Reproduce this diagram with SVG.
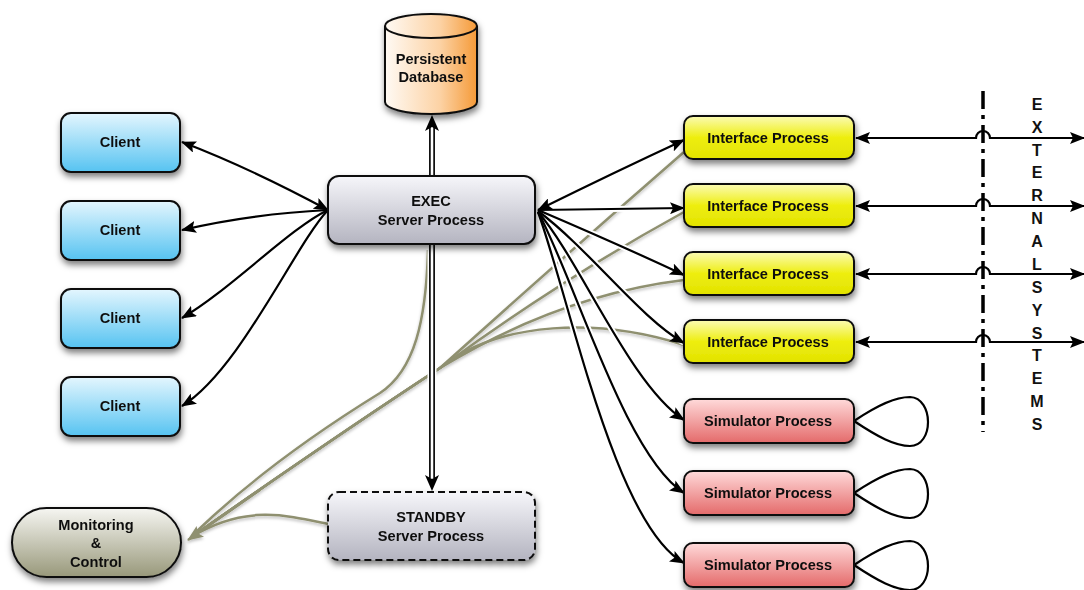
<svg xmlns="http://www.w3.org/2000/svg" xmlns:xlink="http://www.w3.org/1999/xlink" width="1084" height="590" viewBox="0 0 1084 590">
<defs>
<style>
text{font-family:"Liberation Sans",Arial,Helvetica,sans-serif;font-weight:bold;fill:#111;text-anchor:middle}
.t{font-size:14.6px}
.ext{font-size:16px}
.node{stroke:#111;stroke-width:2}
.halo{fill:none;stroke:#fff;stroke-width:6}
.ln{fill:none;stroke:#000;stroke-width:2.2}
.ol{fill:none;stroke:#8f9070;stroke-width:2.5}
</style>
<filter id="sh" x="-20%" y="-20%" width="140%" height="150%">
<feDropShadow dx="1" dy="4" stdDeviation="3" flood-color="#000" flood-opacity="0.5"/>
</filter>
<filter id="lsh" x="-10%" y="-10%" width="120%" height="120%">
<feDropShadow dx="0" dy="2" stdDeviation="1.5" flood-color="#000" flood-opacity="0.25"/>
</filter>
<linearGradient id="gClient" x1="0" y1="0" x2="0" y2="1"><stop offset="0" stop-color="#e4f6fe"/><stop offset="1" stop-color="#56c3f1"/></linearGradient>
<linearGradient id="gExec" x1="0" y1="0" x2="0" y2="1"><stop offset="0" stop-color="#f6f6fa"/><stop offset="1" stop-color="#b4b4c0"/></linearGradient>
<linearGradient id="gIf" x1="0" y1="0" x2="0" y2="1"><stop offset="0" stop-color="#fbfbb4"/><stop offset="0.5" stop-color="#eeee10"/><stop offset="1" stop-color="#e2e200"/></linearGradient>
<linearGradient id="gSim" x1="0" y1="0" x2="0" y2="1"><stop offset="0" stop-color="#ffdada"/><stop offset="1" stop-color="#e46a6a"/></linearGradient>
<linearGradient id="gMon" x1="0" y1="0" x2="0" y2="1"><stop offset="0" stop-color="#f6f6f2"/><stop offset="1" stop-color="#98987a"/></linearGradient>
<linearGradient id="gDb" x1="0" y1="0" x2="1" y2="0"><stop offset="0" stop-color="#fffaf4"/><stop offset="0.6" stop-color="#fcd2a4"/><stop offset="1" stop-color="#f59a38"/></linearGradient>
<marker id="ah" viewBox="0 0 15 12" refX="14" refY="6" markerWidth="15" markerHeight="12" markerUnits="userSpaceOnUse" orient="auto-start-reverse">
<path d="M0,0 L15,6 L0,12 L3,6 Z" fill="#000"/>
</marker>
<marker id="aho" viewBox="0 0 16 13" refX="15" refY="6.5" markerWidth="16" markerHeight="13" markerUnits="userSpaceOnUse" orient="auto-start-reverse">
<path d="M0,0 L16,6.5 L0,13 L3,6.5 Z" fill="#8f9070"/>
</marker>
</defs>
<rect width="1084" height="590" fill="#fff"/>

<g id="connectors">
<g class="olive" filter="url(#lsh)">
<path class="ol" d="M328,524 C290,516 250,505 200,532"/>
<path class="ol" d="M428,250 C426,320 415,370 380,393 C320,430 250,480 196,532"/>
<path class="ol" d="M196,534 Q330,440 440,368 Q560,260 684,152"/>
<path class="ol" d="M196,534 Q330,440 440,368 Q560,280 684,212"/>
<path class="ol" d="M196,534 Q330,440 440,368 Q560,295 684,280"/>
<path class="ol" d="M196,534 Q330,440 440,368 C500,320 600,318 684,345"/>
<path class="ol" d="M260,490 L188,540" marker-end="url(#aho)"/>
</g>
<g>
<path class="halo" d="M328,210 Q250,168 182,142"/>
<path class="halo" d="M328,210 Q250,214 182,230"/>
<path class="halo" d="M328,210 C290,228 230,290 182,318"/>
<path class="halo" d="M328,210 C295,245 240,370 182,406"/>
<path class="ln" d="M328,210 Q250,168 182,142" marker-start="url(#ah)" marker-end="url(#ah)"/>
<path class="ln" d="M328,210 Q250,214 182,230" marker-end="url(#ah)"/>
<path class="ln" d="M328,210 C290,228 230,290 182,318" marker-end="url(#ah)"/>
<path class="ln" d="M328,210 C295,245 240,370 182,406" marker-end="url(#ah)"/>
</g>
<g>
<path class="halo" d="M538,210 Q615,172 684,140"/>
<path class="halo" d="M538,210 L684,208"/>
<path class="halo" d="M538,210 Q620,245 684,275"/>
<path class="halo" d="M538,211 C590,250 640,318 684,343"/>
<path class="halo" d="M538,212 C580,260 630,385 684,420"/>
<path class="halo" d="M538,212 C575,280 625,455 684,493"/>
<path class="halo" d="M538,212 C570,300 615,525 684,563"/>
<path class="ln" d="M538,210 Q615,172 684,140" marker-start="url(#ah)" marker-end="url(#ah)"/>
<path class="ln" d="M538,210 L684,208" marker-end="url(#ah)"/>
<path class="ln" d="M538,210 Q620,245 684,275" marker-end="url(#ah)"/>
<path class="ln" d="M538,211 C590,250 640,318 684,343" marker-end="url(#ah)"/>
<path class="ln" d="M538,212 C580,260 630,385 684,420" marker-end="url(#ah)"/>
<path class="ln" d="M538,212 C575,280 625,455 684,493" marker-end="url(#ah)"/>
<path class="ln" d="M538,212 C570,300 615,525 684,563" marker-end="url(#ah)"/>
</g>
<g>
<line x1="432" y1="128" x2="432" y2="478" stroke="#fff" stroke-width="9"/>
<line x1="432" y1="126" x2="432" y2="478" stroke="#111" stroke-width="6"/>
<line x1="432" y1="126" x2="432" y2="478" stroke="#fff" stroke-width="2.5"/>
<path d="M432,115 L439,131 L432,127 L425,131 Z" fill="#000"/>
<path d="M432,491 L439,475 L432,479 L425,475 Z" fill="#000"/>
</g>
<g>
<path class="ln" d="M856,138 H976 A7,7 0 0 1 990,138 H1084" marker-start="url(#ah)" marker-end="url(#ah)"/>
<path class="ln" d="M856,206 H976 A7,7 0 0 1 990,206 H1084" marker-start="url(#ah)" marker-end="url(#ah)"/>
<path class="ln" d="M856,274 H976 A7,7 0 0 1 990,274 H1084" marker-start="url(#ah)" marker-end="url(#ah)"/>
<path class="ln" d="M856,342 H976 A7,7 0 0 1 990,342 H1084" marker-start="url(#ah)" marker-end="url(#ah)"/>
</g>
<g>
<path class="ln" stroke-width="2.6" d="M854,421 C878,405 895,397 910,397 C934,398 934,446 910,446 C895,446 878,437 854,421"/>
<path class="ln" stroke-width="2.6" d="M854,493 C878,477 895,469 910,469 C934,470 934,518 910,518 C895,518 878,509 854,493"/>
<path class="ln" stroke-width="2.6" d="M854,565 C878,549 895,541 910,541 C934,542 934,590 910,590 C895,590 878,581 854,565"/>
</g>
</g>

<g id="boundary">
<line x1="983" y1="91" x2="983" y2="432" stroke="#000" stroke-width="3.5" stroke-dasharray="18 6 4 6"/>
<text class="ext" x="1037" y="110">E</text>
<text class="ext" x="1037" y="133">X</text>
<text class="ext" x="1037" y="156">T</text>
<text class="ext" x="1037" y="178">E</text>
<text class="ext" x="1037" y="201">R</text>
<text class="ext" x="1037" y="224">N</text>
<text class="ext" x="1037" y="247">A</text>
<text class="ext" x="1037" y="270">L</text>
<text class="ext" x="1037" y="293">S</text>
<text class="ext" x="1037" y="316">Y</text>
<text class="ext" x="1037" y="339">S</text>
<text class="ext" x="1037" y="361">T</text>
<text class="ext" x="1037" y="384">E</text>
<text class="ext" x="1037" y="407">M</text>
<text class="ext" x="1037" y="430">S</text>
</g>

<g id="database" filter="url(#sh)">
<path class="node" fill="url(#gDb)" d="M385,26 L385,102 A46,12 0 0 0 477,102 L477,26 A46,12 0 0 0 385,26 Z"/>
<path fill="none" stroke="#111" stroke-width="2" d="M385,26 A46,12 0 0 0 477,26"/>
<text class="t" x="431" y="64">Persistent</text>
<text class="t" x="431" y="82">Database</text>
</g>

<g id="client1" filter="url(#sh)"><rect class="node" x="61" y="113" width="119" height="59" rx="10" fill="url(#gClient)"/><text class="t" x="120" y="147">Client</text></g>
<g id="client2" filter="url(#sh)"><rect class="node" x="61" y="201" width="119" height="59" rx="10" fill="url(#gClient)"/><text class="t" x="120" y="235">Client</text></g>
<g id="client3" filter="url(#sh)"><rect class="node" x="61" y="289" width="119" height="59" rx="10" fill="url(#gClient)"/><text class="t" x="120" y="323">Client</text></g>
<g id="client4" filter="url(#sh)"><rect class="node" x="61" y="377" width="119" height="59" rx="10" fill="url(#gClient)"/><text class="t" x="120" y="411">Client</text></g>

<g id="exec" filter="url(#sh)"><rect class="node" x="328" y="176" width="207" height="68" rx="11" fill="url(#gExec)"/><text class="t" x="431" y="206">EXEC</text><text class="t" x="431" y="225">Server Process</text></g>

<g id="standby" filter="url(#sh)"><rect class="node" stroke-dasharray="7 4" x="328" y="492" width="207" height="68" rx="11" fill="url(#gExec)"/><text class="t" x="431" y="522">STANDBY</text><text class="t" x="431" y="541">Server Process</text></g>

<g id="monitoring" filter="url(#sh)"><rect class="node" x="12" y="508" width="169" height="69" rx="34.5" fill="url(#gMon)"/><text class="t" x="96" y="530">Monitoring</text><text class="t" x="96" y="548">&amp;</text><text class="t" x="96" y="567">Control</text></g>

<g id="if1" filter="url(#sh)"><rect class="node" x="684" y="116" width="170" height="43" rx="9" fill="url(#gIf)"/><text class="t" x="768" y="143">Interface Process</text></g>
<g id="if2" filter="url(#sh)"><rect class="node" x="684" y="184" width="170" height="43" rx="9" fill="url(#gIf)"/><text class="t" x="768" y="211">Interface Process</text></g>
<g id="if3" filter="url(#sh)"><rect class="node" x="684" y="252" width="170" height="43" rx="9" fill="url(#gIf)"/><text class="t" x="768" y="279">Interface Process</text></g>
<g id="if4" filter="url(#sh)"><rect class="node" x="684" y="320" width="170" height="43" rx="9" fill="url(#gIf)"/><text class="t" x="768" y="347">Interface Process</text></g>

<g id="sim1" filter="url(#sh)"><rect class="node" x="684" y="399" width="170" height="44" rx="9" fill="url(#gSim)"/><text class="t" x="768" y="426">Simulator Process</text></g>
<g id="sim2" filter="url(#sh)"><rect class="node" x="684" y="471" width="170" height="44" rx="9" fill="url(#gSim)"/><text class="t" x="768" y="498">Simulator Process</text></g>
<g id="sim3" filter="url(#sh)"><rect class="node" x="684" y="543" width="170" height="44" rx="9" fill="url(#gSim)"/><text class="t" x="768" y="570">Simulator Process</text></g>
</svg>
